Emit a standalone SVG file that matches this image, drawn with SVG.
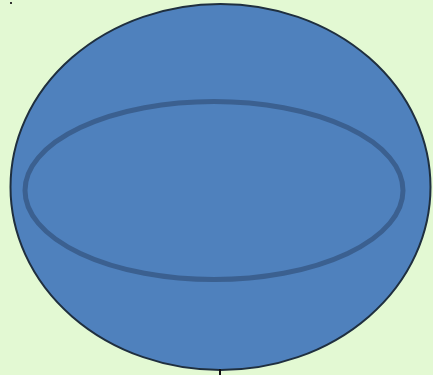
<svg xmlns="http://www.w3.org/2000/svg" width="433" height="375" viewBox="0 0 433 375">
<style>
.outer{fill:#4F81BD;stroke:#1F2F3F;stroke-width:2}
.inner{fill:none;stroke:#3B6090;stroke-width:5}
</style>
<rect width="433" height="375" fill="#E3F9D3"/>
<g id="sphere">
<ellipse class="outer" cx="220.5" cy="187" rx="210" ry="183"/>
<line x1="220" y1="369" x2="220" y2="375" stroke="#111" stroke-width="2"/>
</g>
<g id="equator">
<ellipse class="inner" cx="214" cy="190.5" rx="189" ry="89"/>
</g>
<g id="connectors"/>
<rect x="10" y="2" width="2" height="2" fill="#333"/>
</svg>
